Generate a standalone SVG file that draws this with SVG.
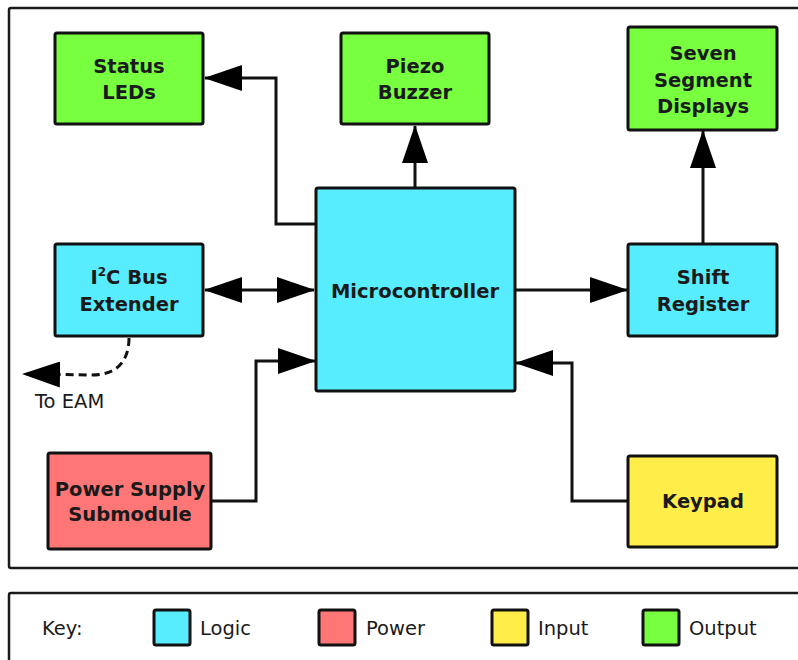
<svg xmlns="http://www.w3.org/2000/svg" width="798" height="660" viewBox="0 0 798 660">
  <style>
    .frame { fill: #ffffff; stroke: #1a1a1a; stroke-width: 2.5; }
    .box { stroke: #111111; stroke-width: 3; }
    .logic { fill: #58ECFF; }
    .power { fill: #FF7676; }
    .input { fill: #FFEE4A; }
    .output { fill: #78FF40; }
    .lbl { font-family: "DejaVu Sans", "Liberation Sans", sans-serif; font-weight: bold; font-size: 19.5px; fill: #1a1a1a; text-anchor: middle; }
    .txt { font-family: "DejaVu Sans", "Liberation Sans", sans-serif; font-size: 19.5px; fill: #1a1a1a; }
    .wire { fill: none; stroke: #111111; stroke-width: 3; }
    .dash { stroke-dasharray: 8 5; }
  </style>
  <defs>
    <marker id="head" markerUnits="userSpaceOnUse" markerWidth="38" markerHeight="26" viewBox="0 0 38 26" refX="37" refY="13" orient="auto-start-reverse">
      <path d="M0,0 L38,13 L0,26 Z" fill="#000000"/>
    </marker>
  </defs>

  <!-- outer frames -->
  <rect class="frame" x="9" y="8" width="800" height="560" rx="2"/>
  <rect class="frame" x="9" y="593" width="800" height="80" rx="2"/>

  <!-- connectors -->
  <g id="connectors">
    <path class="wire" d="M316,224 H276 V78 H205" marker-end="url(#head)"/>
    <path class="wire" d="M415,188 V126" marker-end="url(#head)"/>
    <path class="wire" d="M703,244 V131" marker-end="url(#head)"/>
    <path class="wire" d="M205,290 H314" marker-start="url(#head)" marker-end="url(#head)"/>
    <path class="wire" d="M515,290 H627" marker-end="url(#head)"/>
    <path class="wire" d="M211,501 H256 V361 H315" marker-end="url(#head)"/>
    <path class="wire" d="M628,501 H572 V363 H516" marker-end="url(#head)"/>
    <path class="wire dash" d="M129,338 C129,362 116,375 92,375 L23,374" marker-end="url(#head)"/>
  </g>

  <g id="status-leds">
    <rect class="box output" x="55" y="33" width="148" height="91" rx="2"/>
    <text class="lbl" x="129" y="73">Status</text>
    <text class="lbl" x="129" y="99">LEDs</text>
  </g>

  <g id="piezo-buzzer">
    <rect class="box output" x="341" y="33" width="148" height="91" rx="2"/>
    <text class="lbl" x="415" y="73">Piezo</text>
    <text class="lbl" x="415" y="99">Buzzer</text>
  </g>

  <g id="seven-segment">
    <rect class="box output" x="628" y="27" width="149" height="103" rx="2"/>
    <text class="lbl" x="703" y="60">Seven</text>
    <text class="lbl" x="703" y="87">Segment</text>
    <text class="lbl" x="703" y="113">Displays</text>
  </g>

  <g id="i2c-extender">
    <rect class="box logic" x="55" y="244" width="148" height="92" rx="2"/>
    <text class="lbl" x="129" y="284">I<tspan font-size="12" dy="-8">2</tspan><tspan dy="8">C Bus</tspan></text>
    <text class="lbl" x="129" y="311">Extender</text>
  </g>

  <g id="microcontroller">
    <rect class="box logic" x="316" y="188" width="199" height="203" rx="2"/>
    <text class="lbl" x="415" y="298">Microcontroller</text>
  </g>

  <g id="shift-register">
    <rect class="box logic" x="628" y="244" width="149" height="92" rx="2"/>
    <text class="lbl" x="703" y="284">Shift</text>
    <text class="lbl" x="703" y="311">Register</text>
  </g>

  <g id="power-supply">
    <rect class="box power" x="48" y="453" width="163" height="96" rx="2"/>
    <text class="lbl" x="130" y="496">Power Supply</text>
    <text class="lbl" x="130" y="521">Submodule</text>
  </g>

  <g id="keypad">
    <rect class="box input" x="628" y="456" width="149" height="91" rx="2"/>
    <text class="lbl" x="703" y="508">Keypad</text>
  </g>

  <text class="txt" x="35" y="408">To EAM</text>

  <!-- key -->
  <g id="key">
    <text class="txt" x="42" y="635">Key:</text>
    <rect class="box logic" x="154" y="610" width="36" height="35" rx="2"/>
    <text class="txt" x="200" y="635">Logic</text>
    <rect class="box power" x="319" y="610" width="36" height="35" rx="2"/>
    <text class="txt" x="366" y="635">Power</text>
    <rect class="box input" x="492" y="610" width="36" height="35" rx="2"/>
    <text class="txt" x="538" y="635">Input</text>
    <rect class="box output" x="643" y="610" width="36" height="35" rx="2"/>
    <text class="txt" x="689" y="635">Output</text>
  </g>
</svg>
